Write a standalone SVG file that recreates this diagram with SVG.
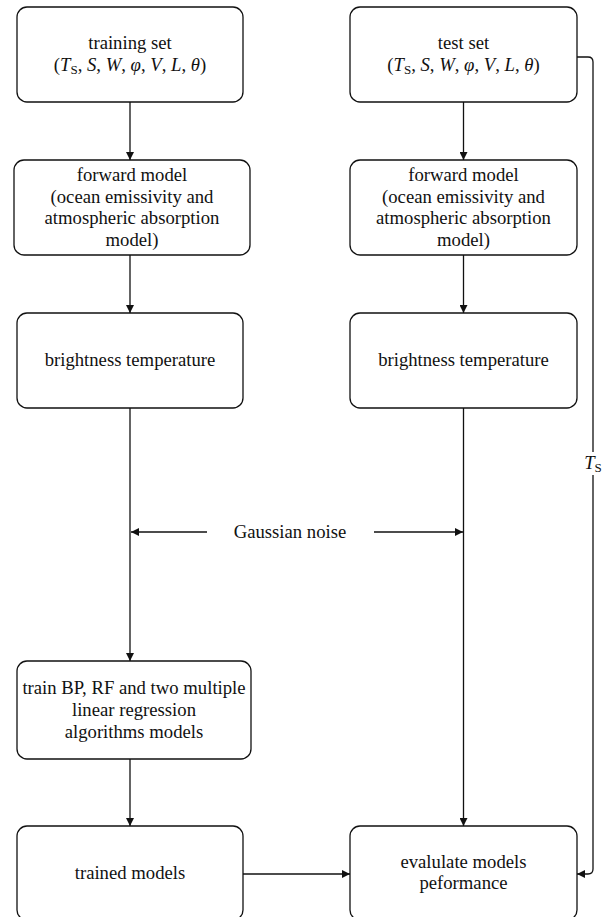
<svg xmlns="http://www.w3.org/2000/svg" width="616" height="917" viewBox="0 0 616 917">
<defs>
<style>
.box{fill:#fff;stroke:#111;stroke-width:1.3}
text{font-family:'Liberation Serif','Times New Roman',Times,'DejaVu Serif',serif;font-size:18.7px;fill:#111;text-anchor:middle}
.i{font-style:italic}
.sub{font-size:13px}
.c{fill:none;stroke:#111;stroke-width:1.3}
</style>
<marker id="ah" viewBox="0 0 10 10" refX="10" refY="5" markerWidth="8" markerHeight="8" markerUnits="userSpaceOnUse" orient="auto">
<path d="M0,0 L10,5 L0,10 z" fill="#111"/>
</marker>
</defs>
<rect width="616" height="917" fill="#fff"/>

<g id="connectors" font-family="Liberation Serif, Times New Roman, serif">
<path class="c" d="M130,102 V160" marker-end="url(#ah)"/>
<path class="c" d="M130,255 V313" marker-end="url(#ah)"/>
<path class="c" d="M130,408 V661" marker-end="url(#ah)"/>
<path class="c" d="M130,759 V826" marker-end="url(#ah)"/>
<path class="c" d="M463.5,102 V160" marker-end="url(#ah)"/>
<path class="c" d="M463.5,255 V313" marker-end="url(#ah)"/>
<path class="c" d="M463.5,408 V826" marker-end="url(#ah)"/>
<path class="c" d="M207,532 H131" marker-end="url(#ah)"/>
<path class="c" d="M374,532 H463" marker-end="url(#ah)"/>
<path class="c" d="M243,874 H350" marker-end="url(#ah)"/>
<path class="c" d="M577,57 H588 Q593,57 593,62 V869 Q593,874 588,874 H577" marker-end="url(#ah)"/>
<rect x="583" y="452" width="22" height="23" fill="#fff"/>
<text x="593" y="469"><tspan class="i">T</tspan><tspan class="sub" dy="3">S</tspan></text>
<text x="290" y="538">Gaussian noise</text>
</g>

<g id="training-set">
<rect class="box" x="17" y="7" width="226" height="95" rx="10"/>
<text x="130" y="49">training set</text>
<text x="130" y="71">(<tspan class="i">T</tspan><tspan class="sub" dy="3">S</tspan><tspan dy="-3">, </tspan><tspan class="i">S</tspan>, <tspan class="i">W</tspan>, <tspan class="i">φ</tspan>, <tspan class="i">V</tspan>, <tspan class="i">L</tspan>, <tspan class="i">θ</tspan>)</text>
</g>

<g id="test-set">
<rect class="box" x="350" y="7" width="227" height="95" rx="10"/>
<text x="463.5" y="49">test set</text>
<text x="463.5" y="71">(<tspan class="i">T</tspan><tspan class="sub" dy="3">S</tspan><tspan dy="-3">, </tspan><tspan class="i">S</tspan>, <tspan class="i">W</tspan>, <tspan class="i">φ</tspan>, <tspan class="i">V</tspan>, <tspan class="i">L</tspan>, <tspan class="i">θ</tspan>)</text>
</g>

<g id="forward-model-left">
<rect class="box" x="14" y="160" width="236" height="95" rx="10"/>
<text x="132" y="181">forward model</text>
<text x="132" y="203">(ocean emissivity and</text>
<text x="132" y="224">atmospheric absorption</text>
<text x="132" y="246">model)</text>
</g>

<g id="forward-model-right">
<rect class="box" x="350" y="160" width="227" height="95" rx="10"/>
<text x="463.5" y="181">forward model</text>
<text x="463.5" y="203">(ocean emissivity and</text>
<text x="463.5" y="224">atmospheric absorption</text>
<text x="463.5" y="246">model)</text>
</g>

<g id="brightness-left">
<rect class="box" x="17" y="313" width="226" height="95" rx="10"/>
<text x="130" y="366">brightness temperature</text>
</g>

<g id="brightness-right">
<rect class="box" x="350" y="313" width="227" height="95" rx="10"/>
<text x="463.5" y="366">brightness temperature</text>
</g>

<g id="train-models">
<rect class="box" x="17" y="661" width="234" height="98" rx="10"/>
<text x="134" y="694">train BP, RF and two multiple</text>
<text x="134" y="716">linear regression</text>
<text x="134" y="738">algorithms models</text>
</g>

<g id="trained-models">
<rect class="box" x="17" y="826" width="226" height="94" rx="10"/>
<text x="130" y="879">trained models</text>
</g>

<g id="evaluate">
<rect class="box" x="350" y="826" width="227" height="94" rx="10"/>
<text x="463.5" y="868">evalulate models</text>
<text x="463.5" y="889">peformance</text>
</g>
</svg>
